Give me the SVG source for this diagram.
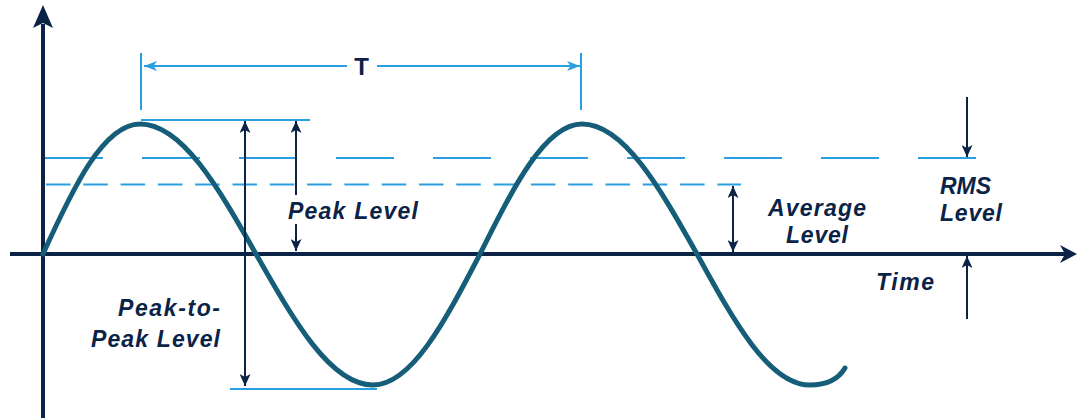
<svg xmlns="http://www.w3.org/2000/svg" width="1078" height="418" viewBox="0 0 1078 418">
  <style>
    .lb { stroke: #2a9fdf; stroke-width: 2; fill: none; }
    .nv { stroke: #0b2347; stroke-width: 2; fill: none; }
    .axis { stroke: #0b2347; stroke-width: 4; fill: none; }
    .wave { stroke: #155d78; stroke-width: 5; fill: none; stroke-linecap: round; }
    .lbl { font-family: "Liberation Sans", Arial, sans-serif; font-style: italic; font-weight: 700; font-size: 23px; fill: #0b2347; }
    .t { font-family: "Liberation Sans", Arial, sans-serif; font-weight: 700; font-size: 24px; fill: #0b2347; }
  </style>
  <defs>
    <marker id="ahN" viewBox="0 0 12 11" refX="12" refY="5.5" markerWidth="12" markerHeight="11" markerUnits="userSpaceOnUse" orient="auto-start-reverse">
      <path d="M12,5.5 L0,0 L3,5.5 L0,11 Z" fill="#0b2347"/>
    </marker>
    <marker id="ahB" viewBox="0 0 13 10" refX="13" refY="5" markerWidth="13" markerHeight="10" markerUnits="userSpaceOnUse" orient="auto-start-reverse">
      <path d="M13,5 L0,0 L3.5,5 L0,10 Z" fill="#2a9fdf"/>
    </marker>
  </defs>

  <g id="guides">
    <line class="lb" x1="141" y1="53" x2="141" y2="110"/>
    <line class="lb" x1="581" y1="53" x2="581" y2="110"/>
    <line class="lb" x1="141" y1="120" x2="310" y2="120"/>
    <line class="lb" x1="230" y1="389" x2="377" y2="389"/>
    <line id="rms-line" class="lb" x1="45" y1="158" x2="976" y2="158" stroke-dasharray="58 39"/>
    <line id="avg-line" class="lb" x1="46" y1="184.5" x2="741" y2="184.5" stroke-dasharray="24.5 12.8"/>
  </g>

  <g id="axes">
    <line class="axis" x1="43" y1="24" x2="43" y2="418"/>
    <polygon points="43,5 53,28 43,23 33,28" fill="#0b2347"/>
    <line class="axis" x1="10" y1="254" x2="1066" y2="254"/>
    <polygon points="1077,254 1060,263 1065,254 1060,245" fill="#0b2347"/>
  </g>

  <g id="waveform">
    <path class="wave" d="M43,254 C72,190 103,124 140,124 C182.1,124 218.2,187.4 256,254 C294.1,321.1 330.5,385 373,385 C411.8,385 445.1,321.1 480,254 C513.3,187.4 545,124 582,124 C623.7,124 659.5,187.4 697,254 C733.8,321.1 769,385 810,385 C826,385 838,380 845,368"/>
  </g>

  <g id="connectors">
    <line class="lb" x1="144" y1="66" x2="347" y2="66" marker-start="url(#ahB)"/>
    <line class="lb" x1="377" y1="66" x2="580" y2="66" marker-end="url(#ahB)"/>
    <line class="nv" x1="245" y1="121" x2="245" y2="386" marker-start="url(#ahN)" marker-end="url(#ahN)"/>
    <line class="nv" x1="296" y1="121" x2="296" y2="195" marker-start="url(#ahN)"/>
    <line class="nv" x1="296" y1="224" x2="296" y2="251" marker-end="url(#ahN)"/>
    <line class="nv" x1="733" y1="186" x2="733" y2="252" marker-start="url(#ahN)" marker-end="url(#ahN)"/>
    <line class="nv" x1="967" y1="97" x2="967" y2="157" marker-end="url(#ahN)"/>
    <line class="nv" x1="967" y1="319" x2="967" y2="256" marker-end="url(#ahN)"/>
  </g>

  <g id="label-T"><text class="t" x="361.5" y="75" text-anchor="middle">T</text></g>
  <g id="label-peak"><text class="lbl" x="288" y="219" textLength="130" lengthAdjust="spacing">Peak Level</text></g>
  <g id="label-p2p">
    <text class="lbl" x="118" y="316" textLength="102" lengthAdjust="spacing">Peak-to-</text>
    <text class="lbl" x="91" y="347" textLength="129" lengthAdjust="spacing">Peak Level</text>
  </g>
  <g id="label-avg">
    <text class="lbl" x="768" y="216" textLength="98" lengthAdjust="spacing">Average</text>
    <text class="lbl" x="786" y="243" textLength="62" lengthAdjust="spacing">Level</text>
  </g>
  <g id="label-rms">
    <text class="lbl" x="940" y="194" textLength="51" lengthAdjust="spacing">RMS</text>
    <text class="lbl" x="940" y="221" textLength="62" lengthAdjust="spacing">Level</text>
  </g>
  <g id="label-time"><text class="lbl" x="876" y="290" textLength="58" lengthAdjust="spacing">Time</text></g>
</svg>
